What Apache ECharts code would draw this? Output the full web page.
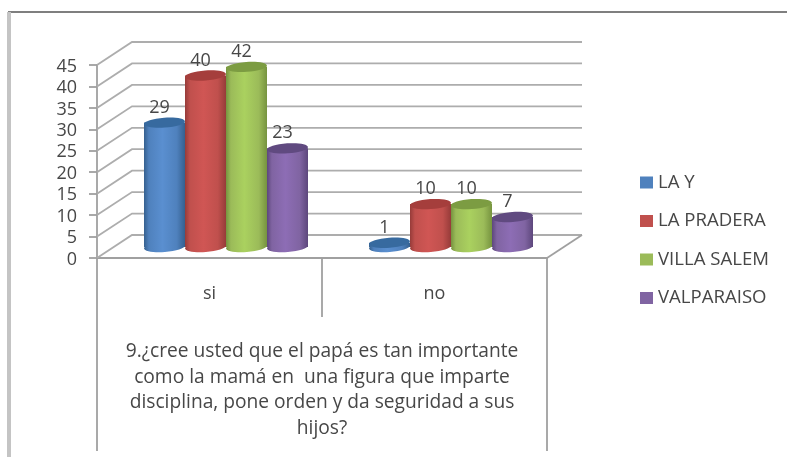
<!DOCTYPE html>
<html>
<head>
<meta charset="utf-8">
<style>
html,body{margin:0;padding:0;background:#fff;}
#main{width:787px;height:457px;filter:blur(0.55px);}
</style>
<script src="https://cdn.jsdelivr.net/npm/echarts@6/dist/echarts.min.js"></script>
</head>
<body>
<div id="main"></div>
<script>
var categories = ['si', 'no'];
var seriesNames = ['LA Y', 'LA PRADERA', 'VILLA SALEM', 'VALPARAISO'];
var laY = [29, 1];
var laPradera = [40, 10];
var villaSalem = [42, 10];
var valparaiso = [23, 7];
var yTicks = [0, 5, 10, 15, 20, 25, 30, 35, 40, 45];
var axisTitle = '9.¿cree usted que el papá es tan importante\ncomo la mamá en  una figura que imparte\ndisciplina, pone orden y da seguridad a sus\nhijos?';

var colors = ['#4f81bd', '#c0504d', '#9bbb59', '#8064a2'];
var edgeColors = ['#35608f', '#963b39', '#76933f', '#5d477c'];
var lightColors = ['#5a8fd0', '#d05654', '#aad15f', '#8d6db5'];
var topColors = ['#376a9f', '#a53e3c', '#7c9c42', '#604a80'];
var allValues = [laY, laPradera, villaSalem, valparaiso];

var font = '"Open Sans", Lato, sans-serif';
var textColor = '#474747';
var lineColor = '#adadad';
var DX = 35, DY = 23;           // depth of the 3D box
var BAR_RATIO = 41 / 225;       // cylinder width per category
var TILT = -0.07;

function renderWall(params, api) {
  var cs = params.coordSys;
  var p = api.coord([0, api.value(0)]);
  var left = cs.x, right = cs.x + cs.width, y = p[1];
  return {
    type: 'polyline',
    silent: true,
    shape: { points: [[left, y], [left + DX, y - DY], [right + DX, y - DY]] },
    style: { stroke: lineColor, lineWidth: 1.8, fill: null }
  };
}

function renderFrame(params, api) {
  var cs = params.coordSys;
  var left = cs.x, right = cs.x + cs.width, bottom = cs.y + cs.height, mid = left + cs.width / 2;
  var st = { stroke: '#a0a0a0', lineWidth: 1.8, fill: null };
  function l(pts) { return { type: 'polyline', silent: true, shape: { points: pts }, style: st }; }
  return {
    type: 'group',
    children: [
      l([[right, bottom], [right + DX, bottom - DY]]),
      l([[left, bottom], [left, 451]]),
      l([[mid, bottom], [mid, 317]]),
      l([[right, bottom], [right, 451]])
    ]
  };
}

function makeCylinder(si) {
  return function (params, api) {
    var cat = api.value(0), val = api.value(1);
    var top = api.coord([cat, val]);
    var base = api.coord([cat, 0]);
    var w = api.size([1, 0])[0] * BAR_RATIO;
    var cx = top[0] + (si - 1.5) * w + DX / 2 - 1;
    var off = -DY / 2 + 0.5;
    var yT = top[1] + off, yB = base[1] + off;
    var rx = w / 2, ry = 5;
    var grad = {
      type: 'linear', x: 0, y: 0, x2: 1, y2: 0,
      colorStops: [
        { offset: 0, color: edgeColors[si] },
        { offset: 0.12, color: colors[si] },
        { offset: 0.45, color: lightColors[si] },
        { offset: 0.8, color: colors[si] },
        { offset: 1, color: edgeColors[si] }
      ]
    };
    return {
      type: 'group',
      children: [
        { type: 'ellipse', silent: true, x: cx, y: yB, rotation: -TILT,
          shape: { cx: 0, cy: 0, rx: rx, ry: ry }, style: { fill: grad } },
        { type: 'rect', silent: true,
          shape: { x: cx - rx, y: yT, width: w, height: yB - yT }, style: { fill: grad } },
        { type: 'ellipse', silent: true, x: cx, y: yT, rotation: -TILT,
          shape: { cx: 0, cy: 0, rx: rx, ry: ry }, style: { fill: topColors[si] } },
        { type: 'text', silent: true, x: cx - 5, y: yT - 15,
          style: { text: String(val), align: 'center', verticalAlign: 'middle',
                   font: '18px ' + font, fill: textColor } }
      ]
    };
  };
}

var series = [
  { name: 'walls', type: 'custom', renderItem: renderWall, data: yTicks.map(function (t) { return [t]; }),
    encode: { y: 0 }, z: 1, silent: true },
  { name: 'frame', type: 'custom', renderItem: renderFrame, data: [[0]], encode: { y: 0 }, z: 1, silent: true }
];
seriesNames.forEach(function (n, si) {
  series.push({
    name: n, type: 'custom', renderItem: makeCylinder(si), z: 3 + si,
    itemStyle: { color: colors[si] },
    encode: { x: 0, y: 1 },
    data: allValues[si].map(function (v, c) { return [c, v]; })
  });
});

var chart = echarts.init(document.getElementById('main'));
chart.setOption({
  animation: false,
  backgroundColor: '#fff',
  color: colors,
  grid: { left: 97, top: 65, width: 450, height: 193 },
  xAxis: {
    type: 'category', data: categories, boundaryGap: true,
    axisLine: { show: true, lineStyle: { color: '#a0a0a0', width: 1.8 } },
    axisTick: { show: false },
    axisLabel: { color: textColor, fontFamily: font, fontSize: 18, margin: 27 },
    name: axisTitle, nameLocation: 'middle', nameGap: 81,
    nameTextStyle: { color: textColor, fontFamily: font, fontSize: 19.2, lineHeight: 25.6, align: 'center', verticalAlign: 'top' }
  },
  yAxis: {
    type: 'value', min: 0, max: 45, interval: 5,
    axisLine: { show: true, lineStyle: { color: '#a0a0a0', width: 1.8 } },
    axisTick: { show: true, length: 8, lineStyle: { color: '#a0a0a0', width: 1.8 } },
    axisLabel: { color: textColor, fontFamily: font, fontSize: 18, margin: 20, verticalAlign: 'top', lineHeight: 3 },
    splitLine: { show: false }
  },
  legend: {
    data: seriesNames, orient: 'vertical', left: 640, top: 173, padding: 0,
    icon: 'rect', itemWidth: 13, itemHeight: 12, itemGap: 19.5,
    textStyle: { color: textColor, fontFamily: font, fontSize: 18.6 },
    selectedMode: false
  },
  graphic: [
    { type: 'rect', silent: true, shape: { x: 8, y: 11, width: 779, height: 2 }, style: { fill: '#7f7f7f' } },
    { type: 'rect', silent: true, shape: { x: 7, y: 12, width: 4, height: 445 }, style: { fill: '#c4c4c4' } }
  ],
  series: series
});
</script>
</body>
</html>
